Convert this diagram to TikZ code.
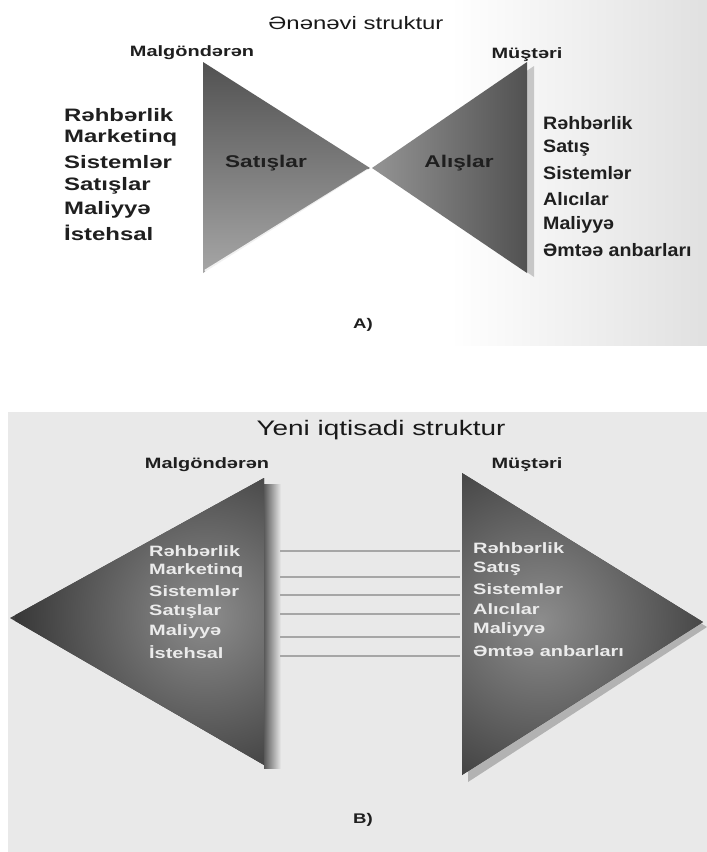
\documentclass[tikz,border=0pt]{standalone}
\usepackage{fontspec}
\setmainfont{Liberation Sans}[FakeStretch=1.33]
\begin{document}
\begin{tikzpicture}[x=1pt,y=-1pt,
  ttl/.style={font=\fontsize{18}{20}\selectfont, inner sep=0, text=black!90},
  lbl/.style={font=\bfseries\fontsize{15}{17}\selectfont, inner sep=0, text=black!88},
  listA/.style={font=\bfseries\fontsize{18}{20}\selectfont, anchor=west, inner sep=0, text=black!88},
  listAr/.style={listA, xscale=0.82, transform shape},
  listB/.style={font=\bfseries\fontsize{15}{17}\selectfont, anchor=west, inner sep=0, text=white!92!black},
  conn/.style={draw=black!35, line width=2pt}
]
\definecolor{panel}{HTML}{E9E9E9}
\useasboundingbox (0,0) rectangle (707,852);
% ---------- Part A ----------
\fill[white] (0,0) rectangle (707,852);
\shade[left color=white, right color=black!12] (450,0) rectangle (707,345);
% left triangle
\shade[top color=black!68, bottom color=black!35] (203,62) -- (370,168) -- (203,273) -- cycle;
\draw[white, line width=2.5pt, opacity=0.85] (205,271) -- (368,170);
% right triangle
\fill[black!22] (534,66) -- (534,277) -- (380,170) -- cycle;
\shade[left color=black!42, right color=black!68] (527,62) -- (527,273) -- (372,168) -- cycle;
\node[ttl] (titleA) at (356,23) {Ənənəvi struktur};
\node[lbl] (supA) at (192,53) {Malgöndərən};
\node[lbl] (cusA) at (527,55) {Müştəri};
\node[font=\bfseries\fontsize{17}{19}\selectfont, inner sep=0, text=black!88] (salesA) at (266,163) {Satışlar};
\node[font=\bfseries\fontsize{17}{19}\selectfont, inner sep=0, text=black!88] (buyA) at (459,163) {Alışlar};
\node[listA] (a1) at (64,115) {Rəhbərlik};
\node[listA] (a2) at (64,138) {Marketinq};
\node[listA] (a3) at (64,162) {Sistemlər};
\node[listA] (a4) at (64,186) {Satışlar};
\node[listA] (a5) at (64,210) {Maliyyə};
\node[listA] (a6) at (64,233) {İstehsal};
\node[listAr] (b1) at (543,123) {Rəhbərlik};
\node[listAr] (b2) at (543,148) {Satış};
\node[listAr] (b3) at (543,173) {Sistemlər};
\node[listAr] (b4) at (543,199) {Alıcılar};
\node[listAr] (b5) at (543,225) {Maliyyə};
\node[listAr] (b6) at (543,250) {Əmtəə anbarları};
\node[font=\bfseries\fontsize{14}{16}\selectfont, inner sep=0, text=black!88] (capA) at (363,325) {A)};
% ---------- Part B ----------
\fill[panel] (8,412) rectangle (707,852);
% left triangle
\begin{scope}
  \clip (264,478) -- (264,765) -- (10,618) -- cycle;
  \fill[black!75] (0,470) rectangle (270,770);
  \shade[inner color=black!45, outer color=black!78] (205,615) circle (190);
\end{scope}
\shade[left color=black!65, right color=panel] (264,484) rectangle (281,768);
% right triangle
\fill[black!30] (468,480) -- (707,627) -- (468,782) -- cycle;
\begin{scope}
  \clip (462,473) -- (703,622) -- (462,775) -- cycle;
  \fill[black!75] (455,465) rectangle (710,780);
  \shade[inner color=black!45, outer color=black!78] (540,620) circle (200);
\end{scope}
\node[font=\fontsize{21}{23}\selectfont, inner sep=0, text=black!90] (titleB) at (381,430) {Yeni iqtisadi struktur};
\node[lbl] (supB) at (207,465) {Malgöndərən};
\node[lbl] (cusB) at (527,465) {Müştəri};
\node[listB] (c1) at (149,551) {Rəhbərlik};
\node[listB] (c2) at (149,571) {Marketinq};
\node[listB] (c3) at (149,591) {Sistemlər};
\node[listB] (c4) at (149,612) {Satışlar};
\node[listB] (c5) at (149,632) {Maliyyə};
\node[listB] (c6) at (149,652) {İstehsal};
\node[listB] (d1) at (473,548) {Rəhbərlik};
\node[listB] (d2) at (473,569) {Satış};
\node[listB] (d3) at (473,589) {Sistemlər};
\node[listB] (d4) at (473,609) {Alıcılar};
\node[listB] (d5) at (473,630) {Maliyyə};
\node[listB] (d6) at (473,651) {Əmtəə anbarları};
\foreach \i/\y in {1/551,2/577,3/595,4/614,5/637,6/656}{
  \coordinate (l\i) at (280,\y);
  \coordinate (r\i) at (460,\y);
  \draw[conn] (l\i) -- (r\i);
}
\node[font=\bfseries\fontsize{14}{16}\selectfont, inner sep=0, text=black!88] (capB) at (363,820) {B)};
\end{tikzpicture}
\end{document}
